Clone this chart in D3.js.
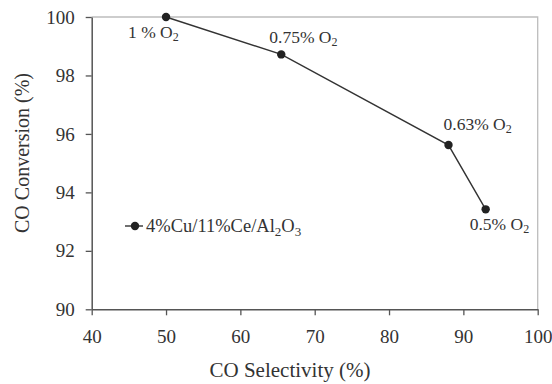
<!DOCTYPE html>
<html>
<head>
<meta charset="utf-8">
<script src="https://cdn.jsdelivr.net/npm/d3@7"></script>
<style>
  html, body { margin: 0; padding: 0; background: #fff; }
  svg text { font-family: "Liberation Serif", "DejaVu Serif", serif; fill: #333; }
</style>
</head>
<body>
<svg id="chart" width="552" height="384"></svg>
<script>
// CO selectivity vs. CO conversion at different O2 feed levels
const selectivity = [50, 65.5, 88, 93];
const conversion  = [100, 98.72, 95.62, 93.42];
const o2Labels    = ["1 %", "0.75%", "0.63%", "0.5%"];
const xTicks = [40, 50, 60, 70, 80, 90, 100];
const yTicks = [90, 92, 94, 96, 98, 100];
const seriesName = "4%Cu/11%Ce/Al2O3";

const svg = d3.select("#chart");
const plotL = 91.7, plotR = 537.7, plotT = 17, plotB = 309.3;

const x = d3.scaleLinear().domain([40, 100]).range([plotL, plotR]);
const y = d3.scaleLinear().domain([90, 100]).range([plotB, plotT]);

// light frame on top and right
svg.append("path")
  .attr("d", `M${plotL},${plotT}H${plotR}V${plotB}`)
  .attr("fill", "none").attr("stroke", "#bdbdbd").attr("stroke-width", 1.3);

const xAxis = svg.append("g").attr("transform", `translate(0,${plotB})`)
  .call(d3.axisBottom(x).tickValues(xTicks).tickSize(6).tickSizeOuter(0).tickPadding(14));
const yAxis = svg.append("g").attr("transform", `translate(${plotL},0)`)
  .call(d3.axisLeft(y).tickValues(yTicks).tickSize(6).tickSizeOuter(0).tickPadding(11));

[xAxis, yAxis].forEach(g => {
  g.select(".domain").attr("stroke", "#555").attr("stroke-width", 1.5);
  g.selectAll(".tick line").attr("stroke", "#555").attr("stroke-width", 1.3);
  g.selectAll(".tick text").attr("font-size", 19).attr("fill", "#333")
    .attr("font-family", "Liberation Serif, serif");
});

// axis titles
svg.append("text").attr("x", 290).attr("y", 377)
  .attr("text-anchor", "middle").attr("font-size", 21).text("CO Selectivity (%)");
svg.append("text")
  .attr("transform", "translate(29,153) rotate(-90)")
  .attr("text-anchor", "middle").attr("font-size", 20).text("CO Conversion (%)");

// data line and markers
const pts = selectivity.map((s, i) => [s, conversion[i]]);
svg.append("path").datum(pts)
  .attr("d", d3.line().x(d => x(d[0])).y(d => y(d[1])))
  .attr("fill", "none").attr("stroke", "#333").attr("stroke-width", 1.4);
svg.selectAll("circle.pt").data(pts).join("circle").attr("class", "pt")
  .attr("cx", d => x(d[0])).attr("cy", d => y(d[1])).attr("r", 4.2).attr("fill", "#222");

// point annotations (offsets relative to each point)
const labelOffsets = [[-38, 21], [-12, -11], [-5, -15], [-16, 21]];
pts.forEach((d, i) => {
  const t = svg.append("text")
    .attr("x", x(d[0]) + labelOffsets[i][0])
    .attr("y", y(d[1]) + labelOffsets[i][1])
    .attr("font-size", 17.5);
  t.append("tspan").text(o2Labels[i] + " O");
  t.append("tspan").attr("font-size", 12).attr("dy", 3).text("2");
});

// legend
const lgY = 226;
svg.append("line").attr("x1", 125).attr("x2", 143).attr("y1", lgY).attr("y2", lgY)
  .attr("stroke", "#333").attr("stroke-width", 1.4);
svg.append("circle").attr("cx", 135).attr("cy", lgY).attr("r", 4.2).attr("fill", "#222");
const lt = svg.append("text").attr("x", 146).attr("y", lgY + 6).attr("font-size", 18.5);
const parts = seriesName.match(/^(.*Al)(2)(O)(3)$/);
lt.append("tspan").text(parts[1]);
lt.append("tspan").attr("font-size", 13).attr("dy", 4).text(parts[2]);
lt.append("tspan").attr("dy", -4).text(parts[3]);
lt.append("tspan").attr("font-size", 13).attr("dy", 4).text(parts[4]);
</script>
</body>
</html>
